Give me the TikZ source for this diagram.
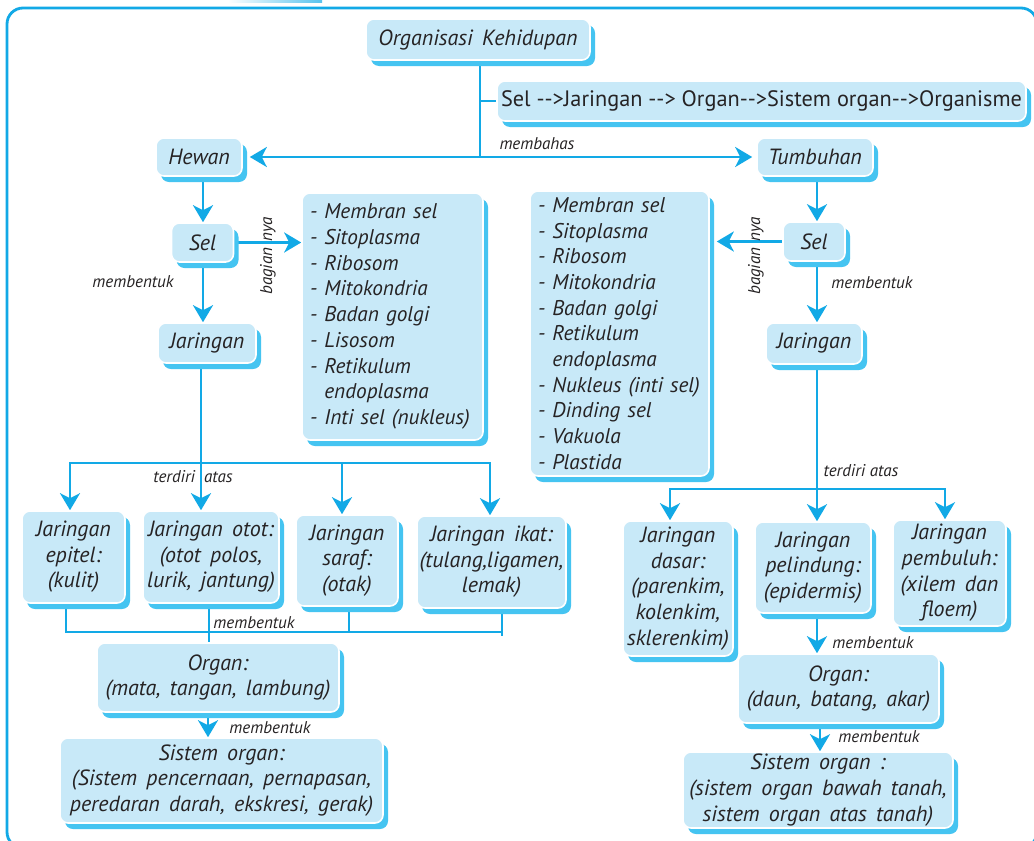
\documentclass[tikz,border=0pt]{standalone}
\usepackage{fontspec}
\setmainfont{PT Sans}
\usetikzlibrary{arrows.meta,shadows}
\definecolor{linec}{HTML}{12A9E6}
\definecolor{shadowc}{HTML}{45C4F1}
\definecolor{boxfill}{HTML}{C8E9F8}
\definecolor{textc}{HTML}{262324}
\pgfdeclarelayer{background}
\pgfsetlayers{background,main}
\newcommand\bxfont{\fontsize{22}{25.6}\selectfont\itshape\spaceskip=0.42em plus 0.1em\relax}
\newcommand\lsfont{\fontsize{21.3}{25.7}\selectfont\itshape}
\newcommand\bxupfont{\fontsize{22.3}{25.6}\selectfont}
\newcommand\lbfont{\fontsize{17}{19}\selectfont\itshape}
\begin{document}
\begin{tikzpicture}[x=1pt,y=-1pt,
  box/.style={rectangle, rounded corners=8pt, fill=boxfill, draw=white, line width=1.6pt,
    drop shadow={shadow xshift=5pt, shadow yshift=-6pt, fill=shadowc, opacity=1},
    inner sep=0pt, font=\bxfont, text=textc, align=center},
  listbox/.style={box, font=\lsfont, align=left, inner xsep=8pt},
  conn/.style={draw=linec, line width=2.6pt},
  arr/.style={conn, -{Stealth[length=17pt,width=20pt,inset=5pt]}},
  darr/.style={conn, {Stealth[length=17pt,width=20pt,inset=5pt]}-{Stealth[length=17pt,width=20pt,inset=5pt]}},
  lbl/.style={font=\lbfont, text=textc, inner sep=1pt}]
\useasboundingbox (0,0) rectangle (1034,841);
\begin{pgfonlayer}{background}
\fill[white] (0,0) rectangle (1034,841);
\end{pgfonlayer}
\begin{scope}
\clip (0,0) rectangle (1034,841);
\shade[left color=white, right color=linec!70] (228,0) rectangle (322,2.5);
\draw[linec, line width=2.8pt, rounded corners=16pt] (7,8) rectangle (1037,848);
\end{scope}

% nodes
\node[box, minimum width=224pt, minimum height=41pt] (org) at (478,39.5) {Organisasi Kehidupan};
\node[box, font=\bxupfont, minimum width=529pt, minimum height=40pt] (chain) at (761.5,101) {Sel -{}->Jaringan -{}-> Organ-{}->Sistem organ-{}->Organisme};
\node[box, minimum width=86pt, minimum height=38pt] (hewan) at (199,157) {Hewan};
\node[box, minimum width=116pt, minimum height=38pt] (tumbuhan) at (815,157) {Tumbuhan};
\node[box, minimum width=62pt, minimum height=39pt] (selL) at (202.5,242.5) {Sel};
\node[listbox, text width=165pt, minimum height=247pt] (listL) at (392.5,316.5)
  {- Membran sel\\- Sitoplasma\\- Ribosom\\- Mitokondria\\- Badan golgi\\- Lisosom\\- Retikulum\\\phantom{- }endoplasma\\- Inti sel (nukleus)};
\node[box, minimum width=98pt, minimum height=40pt] (jarL) at (207,343) {Jaringan};
\node[box, minimum width=103pt, minimum height=92pt] (epitel) at (73.5,557) {Jaringan\\epitel:\\(kulit)};
\node[box, minimum width=136pt, minimum height=92pt] (otot) at (211,557) {Jaringan otot:\\(otot polos,\\lurik, jantung)};
\node[box, minimum width=102pt, minimum height=91pt] (saraf) at (347,560.5) {Jaringan\\saraf:\\(otak)};
\node[box, minimum width=149pt, minimum height=92pt] (ikat) at (491.5,562) {Jaringan ikat:\\(tulang,ligamen,\\lemak)};
\node[box, minimum width=242pt, minimum height=69pt] (organL) at (218,677.5) {Organ:\\(mata, tangan, lambung)};
\node[box, minimum width=323pt, minimum height=85pt] (sisL) at (221.5,780.5) {Sistem organ:\\(Sistem pencernaan, pernapasan,\\peredaran darah, ekskresi, gerak)};

\node[box, minimum width=62pt, minimum height=39pt] (selR) at (814,241.5) {Sel};
\node[listbox, text width=163pt, minimum height=285pt] (listR) at (619.5,333.5)
  {- Membran sel\\- Sitoplasma\\- Ribosom\\- Mitokondria\\- Badan golgi\\- Retikulum\\\phantom{- }endoplasma\\- Nukleus (inti sel)\\- Dinding sel\\- Vakuola\\- Plastida};
\node[box, minimum width=96pt, minimum height=41pt] (jarR) at (814,343.5) {Jaringan};
\node[box, minimum width=110pt, minimum height=135pt] (dasar) at (678,588.5) {Jaringan\\dasar:\\(parenkim,\\kolenkim,\\sklerenkim)};
\node[box, minimum width=116pt, minimum height=91pt] (pelindung) at (813,567.5) {Jaringan\\pelindung:\\(epidermis)};
\node[box, minimum width=113pt, minimum height=106pt] (pembuluh) at (949.5,573) {Jaringan\\pembuluh:\\(xilem dan\\floem)};
\node[box, minimum width=201pt, minimum height=69pt] (organR) at (838.5,688.5) {Organ:\\(daun, batang, akar)};
\node[box, minimum width=270pt, minimum height=76pt] (sisR) at (818,790) {Sistem organ :\\(sistem organ bawah tanah,\\sistem organ atas tanah)};

% labels
\node[lbl] (lb1) at (537,144) {membahas};
\node[lbl] (lb2) at (133,282) {membentuk};
\node[lbl, rotate=90] (lb3) at (268,256) {bagian\hspace{6pt}nya};
\node[lbl] (lb4) at (193,477) {terdiri\hspace{9pt}atas};
\node[lbl] (lb5) at (254,623) {membentuk};
\node[lbl] (lb6) at (270,728) {membentuk};
\node[lbl, rotate=90] (lb7) at (756,256) {bagian\hspace{6pt}nya};
\node[lbl] (lb8) at (872,283) {membentuk};
\node[lbl] (lb9) at (861,471) {terdiri atas};
\node[lbl] (lb10) at (873,643) {membentuk};
\node[lbl] (lb11) at (879,737) {membentuk};

% connectors
\begin{pgfonlayer}{background}
\coordinate (hub) at (480,157);
\draw[conn] (org.south -| hub) -- (hub);
\draw[conn] (hub |- chain.west) -- (chain.west);
\coordinate (hewtip) at ([xshift=7pt]hewan.east);
\draw[arr] (hub) -- (hewtip);
\coordinate (tumtip) at ([xshift=-4pt]tumbuhan.west);
\draw[arr] (hub) -- (tumtip);
% left column
\coordinate (lx) at (203,0);
\draw[arr] (hewan.south -| lx) -- (selL.north -| lx);
\draw[arr] (selL.east) -- (listL.west |- selL.east);
\draw[arr] (selL.south -| lx) -- (jarL.north -| lx);
\coordinate (bl1) at (70,463);
\coordinate (blc) at (201,463);
\coordinate (bl3) at (342,463);
\coordinate (bl4) at (490,463);
\draw[darr] (bl1 |- epitel.north) -- (bl1) -- (bl4) -- (bl4 |- ikat.north);
\draw[arr] (jarL.south -| blc) -- (blc |- otot.north);
\draw[arr] (bl3) -- (bl3 |- saraf.north);
\coordinate (k1) at (66,632);
\coordinate (k2) at (209,632);
\coordinate (k3) at (349,632);
\coordinate (k4) at (502,632);
\coordinate (k4b) at (502,636);
\draw[conn] (k1 |- epitel.south) -- (k1) -- (k4);
\draw[conn] (k4 |- ikat.south) -- (k4b);
\draw[conn] (k2 |- otot.south) -- (k2 |- organL.north);
\draw[conn] (k3 |- saraf.south) -- (k3);
\coordinate (ox) at (208,0);
\draw[arr] (organL.south -| ox) -- (sisL.north -| ox);
% right column
\coordinate (rx) at (817,0);
\draw[arr] (tumbuhan.south -| rx) -- (selR.north -| rx);
\coordinate (lre) at ([xshift=7pt]listR.east);
\draw[arr] (selR.west) -- (lre |- selR.west);
\draw[arr] (selR.south -| rx) -- (jarR.north -| rx);
\coordinate (br1) at (670,489);
\coordinate (br3) at (945,489);
\draw[darr] (br1 |- dasar.north) -- (br1) -- (br3) -- (br3 |- pembuluh.north);
\draw[arr] (jarR.south -| rx) -- (pelindung.north -| rx);
\draw[arr] (pelindung.south -| rx) -- (organR.north -| rx);
\coordinate (ox2) at (820,0);
\draw[arr] (organR.south -| ox2) -- (sisR.north -| ox2);
\end{pgfonlayer}
\end{tikzpicture}
\end{document}
